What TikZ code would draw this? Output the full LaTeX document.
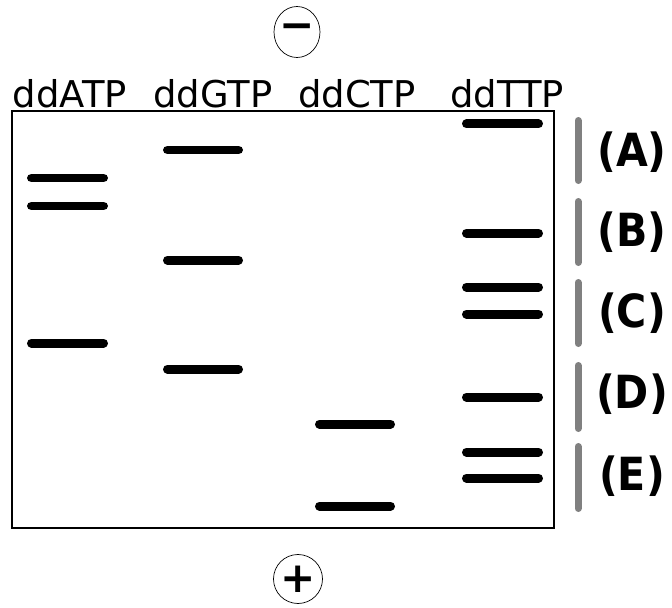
\documentclass[tikz,border=0pt]{standalone}
\usepackage{fontspec}
\setmainfont{DejaVu Sans}
\newfontfamily\condfont{DejaVu Sans Condensed}
\usetikzlibrary{shapes.geometric, positioning, calc}

\begin{document}
\begin{tikzpicture}[
    band/.style={line width=0.18cm, line cap=round, black},
    fragbar/.style={line width=0.14cm, line cap=round, gray},
    lanelabel/.style={anchor=base, inner sep=0pt, font=\fontsize{21}{25}\selectfont},
    fraglabel/.style={inner sep=0pt, font=\condfont\fontsize{26}{30}\selectfont\bfseries},
    pole/.style={draw, ellipse, thin, inner sep=0pt},
    signlabel/.style={inner sep=0pt, font=\fontsize{24}{28}\selectfont\bfseries}
]
\useasboundingbox (0,0) rectangle (13.44,12.14);

% --- 1. THE GEL ---
\node[draw, line width=1pt, minimum width=10.84cm, minimum height=8.34cm, inner sep=0pt] (gel) at (5.66,5.75) {};

% Electrodes
\node[pole, minimum width=0.92cm, minimum height=1.02cm, label={[signlabel]center:−}] (minus) at (5.94,11.50) {};
\node[pole, minimum width=0.98cm, minimum height=0.98cm, label={[signlabel]center:+}] (plus) at (5.96,0.56) {};

% Lane labels
\node[lanelabel] (laneA) at (1.40,10.0) {ddATP};
\node[lanelabel] (laneG) at (4.26,10.0) {ddGTP};
\node[lanelabel] (laneC) at (7.14,10.0) {ddCTP};
\node[lanelabel] (laneT) at (10.14,10.0) {ddTTP};

% --- 2. BANDS ---
% lane ddATP
\foreach \y in {8.58, 8.02, 5.28}
    \draw[band] (0.63,\y) -- (2.07,\y);
% lane ddGTP
\foreach \y in {9.14, 6.94, 4.76}
    \draw[band] (3.35,\y) -- (4.77,\y);
% lane ddCTP
\foreach \y in {3.66, 2.02}
    \draw[band] (6.39,\y) -- (7.81,\y);
% lane ddTTP
\foreach \y in {9.66, 7.48, 6.40, 5.86, 4.20, 3.10, 2.58}
    \draw[band] (9.33,\y) -- (10.77,\y);

% --- 3. FRAGMENT GROUPS (right side) ---
\foreach \top/\bot/\ymid/\name in {9.73/8.53/9.10/A, 8.11/6.89/7.50/B, 6.49/5.27/5.88/C, 4.83/3.57/4.26/D, 3.21/1.97/2.62/E} {
    \draw[fragbar] (11.56,\top) -- (11.56,\bot);
    \node[fraglabel] (grp\name) at (12.64,\ymid) {(\name)};
}

\end{tikzpicture}
\end{document}
